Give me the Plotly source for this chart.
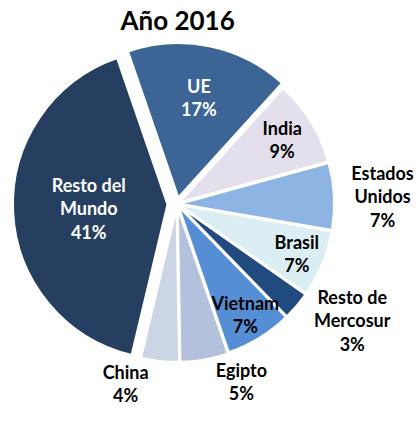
import plotly.graph_objects as go

labels = ["UE", "India", "Estados<br>Unidos", "Brasil", "Resto de<br>Mercosur",
          "Vietnam", "Egipto", "China", "Resto del<br>Mundo"]
values = [17, 9, 7, 7, 3, 7, 5, 4, 41]
colors = ["#3c6595", "#e4dfec", "#8db4e2", "#dbeef3", "#214a7e",
          "#558ed5", "#b3c1dc", "#ccd5e6", "#263f60"]
text_colors = ["white", "black", "black", "black", "black",
               "black", "black", "black", "white"]
positions = ["inside", "inside", "outside", "inside", "outside",
             "inside", "outside", "outside", "inside"]
pulls = [0.04, 0.015, 0.015, 0.015, 0.015, 0.015, 0.02, 0.02, 0.06]

fig = go.Figure(go.Pie(
    labels=labels,
    values=values,
    sort=False,
    direction="clockwise",
    rotation=-19,
    pull=pulls,
    marker=dict(colors=colors, line=dict(color="white", width=2.5)),
    texttemplate="%{label}<br>%{percent:.0%}",
    textposition=positions,
    insidetextorientation="horizontal",
    textfont=dict(family="Lato", size=20, color=text_colors, weight="bold"),
    outsidetextfont=dict(family="Lato", size=18, color="black", weight="bold"),
    hoverinfo="none",
    showlegend=False,
    automargin=False,
    domain=dict(x=[0.0304, 0.8165], y=[0.1415, 0.9075]),
))

fig.update_layout(
    width=418, height=429,
    margin=dict(l=0, r=0, t=0, b=0, autoexpand=False),
    showlegend=False,
    hovermode=False,
    paper_bgcolor="white",
    title=dict(text="<b>Año 2016</b>", x=0.425, xanchor="center", y=0.951, yanchor="middle",
               font=dict(family="Lato", size=26, color="black")),
    uniformtext=dict(minsize=18, mode="show"),
)

page_css = (
    "var s=document.createElement('style');"
    "s.textContent='html,body{margin:0;padding:0;overflow:hidden}.textline{stroke-opacity:0 !important}';"
    "document.head.appendChild(s);"
)
fig.write_html("out.html", post_script=page_css, config={"displayModeBar": False})
